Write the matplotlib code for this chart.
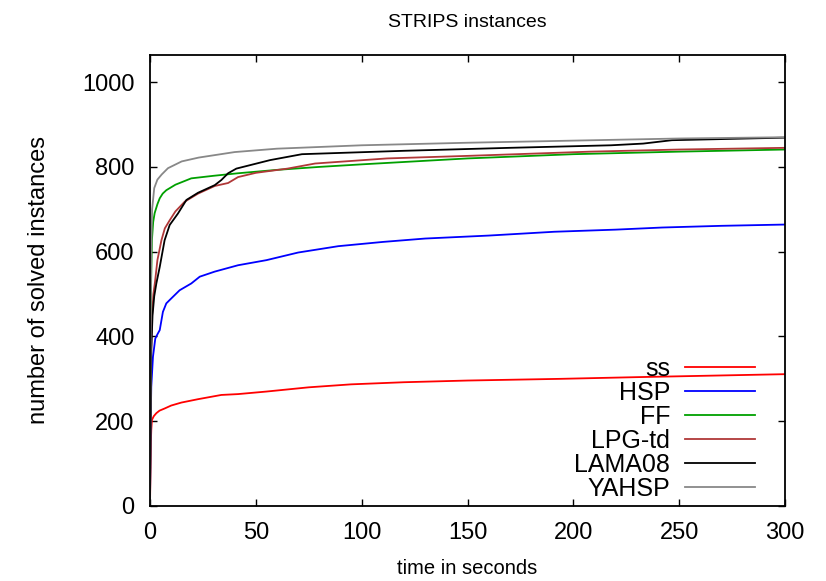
import numpy as np
import matplotlib.pyplot as plt

plt.rcParams['font.family'] = ['Liberation Sans', 'DejaVu Sans']

# cumulative number of solved instances vs. time
ss_t = [0, 0.2, 0.4, 0.6, 0.9, 1.8, 3, 4.5, 6.9, 10, 14.8, 22.7, 33.7, 41.6, 55, 75, 95, 120, 150, 194, 230, 260, 300]
ss_n = [0, 80, 150, 179, 203, 212, 219, 225, 230, 237, 244, 252, 262, 264, 270, 280, 287, 292, 296, 300, 304, 307, 311]

hsp_t = [0, 0.2, 0.6, 1.4, 2.5, 3.5, 4.6, 6.1, 7.7, 9.3, 14, 19.5, 23.5, 30.6, 41.6, 55, 70, 89, 110, 130, 160, 191, 220, 242, 270, 300]
hsp_n = [0, 150, 281, 352, 395, 405, 415, 458, 478, 486, 509, 525, 541, 553, 568, 580, 598, 613, 623, 631, 638, 647, 652, 657, 661, 664]

ff_t = [0, 0.2, 0.5, 0.9, 1.5, 2.2, 3.5, 4.6, 6, 7.7, 12, 19.5, 30, 41.6, 60, 80, 100, 150, 200, 250, 300]
ff_n = [0, 300, 520, 627, 670, 691, 712, 726, 737, 745, 758, 773, 779, 785, 793, 800, 806, 820, 830, 836, 841]

lpg_t = [0, 0.2, 0.5, 1.0, 1.6, 2.4, 3.5, 5.4, 7, 9.3, 12, 16.4, 22.7, 30.6, 36.9, 41.6, 50, 65, 78, 112, 150, 208, 250, 300]
lpg_n = [0, 200, 350, 450, 500, 530, 580, 627, 655, 674, 695, 718, 737, 755, 762, 776, 786, 796, 808, 820, 826, 836, 841, 845]

lama_t = [0, 0.3, 0.6, 1.2, 2.0, 3.0, 4.6, 6.9, 9.3, 13.2, 17.2, 22.7, 30.6, 33.7, 36.9, 40.8, 56.7, 71.8, 120, 170, 217.8, 233, 246.6, 300]
lama_n = [0, 200, 370, 450, 495, 525, 564, 627, 663, 690, 722, 739, 757, 769, 785, 796, 816, 830, 838, 845, 851, 855, 863, 869]

yahsp_t = [0, 0.3, 0.6, 1, 2, 3.5, 5.5, 8.5, 15, 23, 40, 60, 100, 150, 200, 250, 300]
yahsp_n = [0, 400, 600, 700, 750, 770, 782, 797, 813, 822, 835, 843, 851, 857, 862, 867, 870]

names = ['ss', 'HSP', 'FF', 'LPG-td', 'LAMA08', 'YAHSP']
colors = ['#ff0000', '#0000ff', '#00a000', '#b03838', '#000000', '#888888']
series = [(ss_t, ss_n), (hsp_t, hsp_n), (ff_t, ff_n), (lpg_t, lpg_n), (lama_t, lama_n), (yahsp_t, yahsp_n)]

fig = plt.figure(figsize=(8.26, 5.81), dpi=100)
ax = fig.add_axes([150/826, 75/581, 635/826, 451/581])

for (t, n), name, c in zip(series, names, colors):
    ax.plot(t, n, color=c, lw=1.3, label=name)

ax.set_xlim(0, 300)
ax.set_ylim(0, 1064)
ax.set_xticks(np.arange(0, 301, 50))
ax.set_yticks(np.arange(0, 1001, 200))
ax.tick_params(direction='in', length=5, width=1, top=True, right=True, labelsize=17)
ax.tick_params(axis='x', pad=11.5)
ax.tick_params(axis='y', pad=11)
for s in ax.spines.values():
    s.set_linewidth(1.3)

ax.set_xlabel('time in seconds', fontsize=14.5)
ax.xaxis.set_label_coords(0.5, -0.118)
ax.set_ylabel('number of solved instances', fontsize=17)
ax.yaxis.set_label_coords(-0.158, 0.5)
ax.set_title('STRIPS instances', fontsize=14, pad=20)

ax.legend(loc='lower right', bbox_to_anchor=(0.9528, 0.012), frameon=False,
          markerfirst=False, fontsize=18, handlelength=2.8, handletextpad=0.6,
          labelspacing=0.0, borderpad=0, borderaxespad=0)

fig.savefig('out.png', dpi=100)
